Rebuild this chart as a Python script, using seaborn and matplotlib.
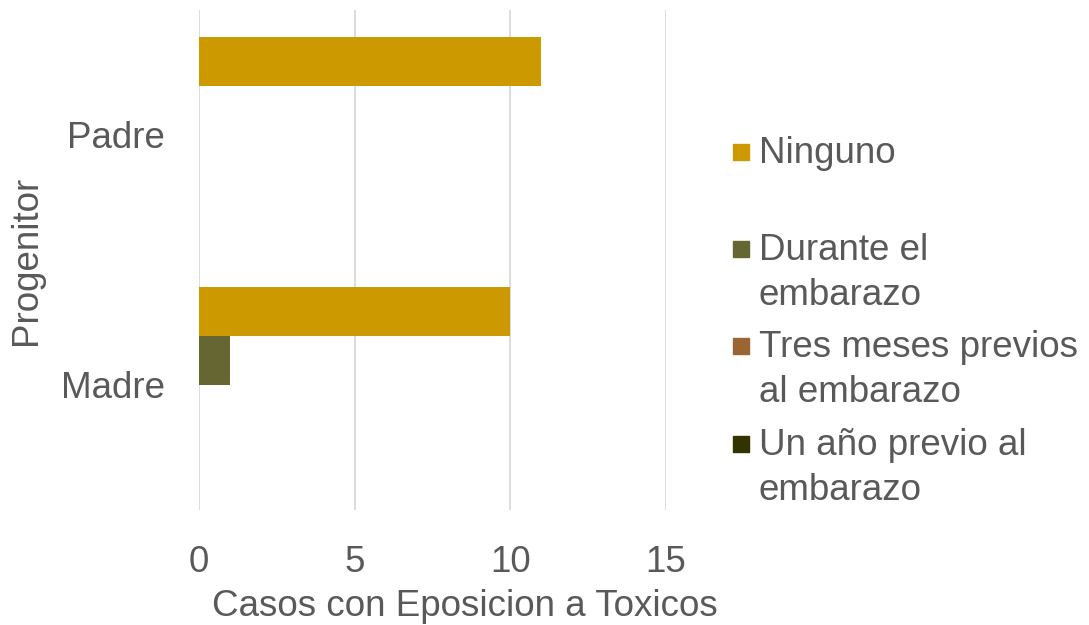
import matplotlib
matplotlib.use("Agg")
import matplotlib.pyplot as plt
import matplotlib.patches as patches
import seaborn as sns
import pandas as pd

progenitor = ["Padre", "Madre"]
series = ["Ninguno", "Durante el\nembarazo", "Tres meses previos\nal embarazo", "Un año previo al\nembarazo"]
padre_vals = [11, 0, 0, 0]
madre_vals = [10, 1, 0, 0]
colores = ["#CC9900", "#666633", "#996633", "#333300"]

rows = []
for s, p, m in zip(series, padre_vals, madre_vals):
    rows.append({"Progenitor": "Padre", "Serie": s, "Casos": p})
    rows.append({"Progenitor": "Madre", "Serie": s, "Casos": m})
df = pd.DataFrame(rows)

sns.set_style("white")
plt.rcParams["font.family"] = ["Liberation Sans", "DejaVu Sans"]
gris = "#595959"
fs = 26.5
W, H = 1089, 625

fig = plt.figure(figsize=(W / 100, H / 100), dpi=100)
ax = fig.add_axes([199 / W, 1 - 510 / H, 467 / W, 500 / H])

sns.barplot(data=df, x="Casos", y="Progenitor", hue="Serie", order=progenitor,
            hue_order=series, palette=colores, orient="h", width=0.78,
            saturation=1, linewidth=0, legend=False, ax=ax)

ax.set_xlim(0, 15)
ax.set_xticks([0, 5, 10, 15])
ax.grid(axis="x", color="#d9d9d9", linewidth=1.3)
ax.set_axisbelow(True)
for sp in ax.spines.values():
    sp.set_visible(False)
ax.tick_params(axis="x", labelsize=fs, colors=gris, length=0, pad=25)
ax.tick_params(axis="y", labelsize=fs, colors=gris, length=0, pad=24.5)
ax.set_xlabel("Casos con Eposicion a Toxicos", fontsize=fs, color=gris)
ax.set_ylabel("Progenitor", fontsize=fs, color=gris)
ax.xaxis.set_label_coords((464.5 - 199) / 467, (510 - 589) / 500)
ax.yaxis.set_label_coords((44 - 199) / 467, 0.5)

# leyenda dibujada a mano (cuadro alineado con la primera linea)
base_y = [163, 260, 357, 455]
for s, c, by in zip(series, colores, base_y):
    fig.patches.append(patches.Rectangle((733 / W, 1 - (by - 3) / H), 16 / W, 16 / H,
                                         transform=fig.transFigure, color=c))
    for k, linea in enumerate(s.split("\n")):
        fig.text(759 / W, 1 - (by + 45 * k) / H, linea, fontsize=fs, color=gris,
                 ha="left", va="baseline")

fig.savefig("out.png", dpi=100)
